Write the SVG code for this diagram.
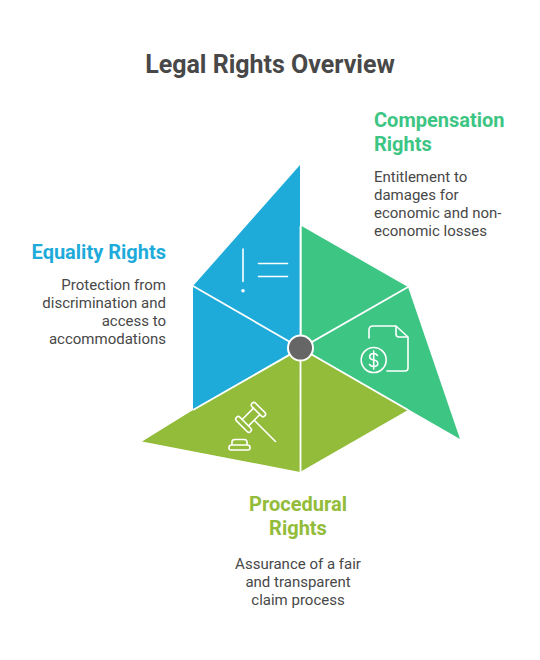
<svg xmlns="http://www.w3.org/2000/svg" width="540" height="660" viewBox="0 0 540 660">
<style>
text{font-family:Roboto,"Liberation Sans",sans-serif}
.t{font-size:25px;font-weight:700;fill:#484848}
.h{font-size:20px;font-weight:700}
.b{font-size:15px;fill:#484848}
.m{text-anchor:middle}.e{text-anchor:end}
.i{fill:none;stroke:#fff;stroke-width:1.6;stroke-linecap:round;stroke-linejoin:round}
</style>
<rect width="540" height="660" fill="#fff"/>
<text class="t m" x="270" y="73">Legal Rights Overview</text>
<g id="equality">
<path d="M300 165V348L193 409.500V286Z" fill="#1eabda"/>
<path class="i" d="M243 249V281.500M258.500 263.500H287.500M258.500 276.500H287.500"/><circle cx="243" cy="290.800" r="1.800" fill="#fff"/>
<text class="h e" x="166" y="259" fill="#1eabda">Equality Rights</text>
<text class="b e" x="166" y="290">Protection from</text>
<text class="b e" x="166" y="308">discrimination and</text>
<text class="b e" x="166" y="326">access to</text>
<text class="b e" x="166" y="344">accommodations</text>
</g>
<g id="compensation">
<path d="M301.500 226L408 287L460 439L301.500 348Z" fill="#3cc583"/>
<path class="i" d="M369 338V330Q369 326 373 326H396L408 337V368Q408 371 405 371H387M396 326V334Q396 337 399 337H408"/>
<circle class="i" cx="373.700" cy="360" r="12.500"/>
<path class="i" d="M377.500 355.500Q376 353.500 373.700 353.500Q369.700 353.500 369.700 356.800Q369.700 359.500 373.700 360Q377.800 360.600 377.800 363.500Q377.800 366.500 373.700 366.500Q370.700 366.500 369.500 364.500M373.700 351V369"/>
<text class="h" x="374" y="127" fill="#3cc583">Compensation</text>
<text class="h" x="374" y="151" fill="#3cc583">Rights</text>
<text class="b" x="374" y="182">Entitlement to</text>
<text class="b" x="374" y="200">damages for</text>
<text class="b" x="374" y="218">economic and non-</text>
<text class="b" x="374" y="236">economic losses</text>
</g>
<g id="procedural">
<path d="M300 348L408 410L300 472L142 441.500L193 410Z" fill="#92bc39"/>
<g class="i">
<g transform="translate(251 417) rotate(-45)"><rect x="-13" y="-10" width="5" height="20" rx="2.500"/><rect x="8" y="-9" width="5" height="18" rx="2.500"/><path d="M-8 -4.500H8M-8 4.500H8"/></g>
<path d="M255 421L275.500 441.500"/>
<path d="M232 445V442Q232 439.500 235 439.500H244Q247 439.500 247 442V445M231.500 445H247.500Q250 445 250 447.500V448Q250 450 248 450H231Q229 450 229 448V447.500Q229 445 231.500 445Z"/>
</g>
<text class="h m" x="298" y="511" fill="#92bc39">Procedural</text>
<text class="h m" x="298" y="535" fill="#92bc39">Rights</text>
<text class="b m" x="298" y="569">Assurance of a fair</text>
<text class="b m" x="298" y="587">and transparent</text>
<text class="b m" x="298" y="605">claim process</text>
</g>
<g id="connectors">
<path d="M300.500 226V472M193 286L408 410M193 410L408 287" stroke="#fff" stroke-width="1.800" fill="none"/>
<circle cx="300.500" cy="348" r="12.500" fill="#666" stroke="#fff" stroke-width="2"/>
</g>
</svg>
